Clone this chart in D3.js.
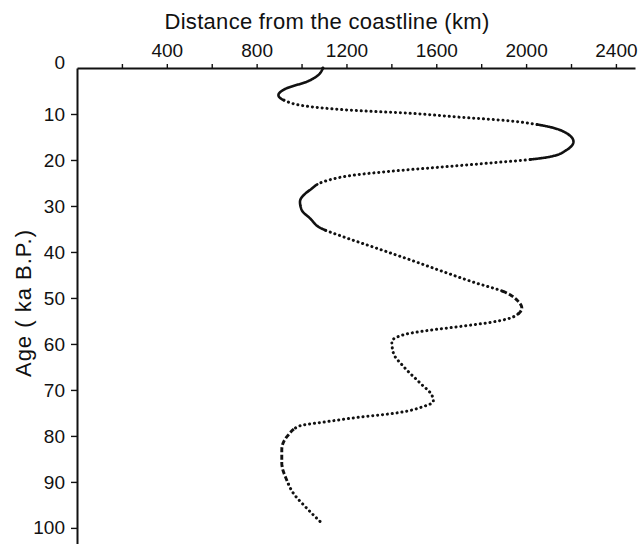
<!DOCTYPE html>
<html>
<head>
<meta charset="utf-8">
<script src="https://cdn.jsdelivr.net/npm/d3@7/dist/d3.min.js"></script>
<style>
  body { margin: 0; background: #fff; }
  text { font-family: 'Liberation Sans', Arial, sans-serif; fill: #111; }
</style>
</head>
<body>
<div id="root"></div>
<script>
// age (ka B.P.) and distance from the coastline (km)
var ages = [0, 1.5, 3.0, 4.4, 5.9, 7.1, 8.4, 9.3, 9.85, 10.7, 11.5, 12.4, 13.8, 16.0, 17.8,
  19.3, 19.9, 20.6, 21.5, 22.4, 23.3, 24.5, 26.5, 29.1, 30.9, 32.7, 34.8, 36.7, 39.2, 41.7,
  44.3, 46.8, 48.6, 50.8, 52.2, 54.1, 55.2, 56.2, 57.1, 58.0, 59.5, 62.0, 64.9, 68.5, 71.1,
  72.5, 73.6, 75.1, 75.9, 76.9, 77.8, 79.8, 83.0, 85.9, 89.6, 92.5, 95.7, 99.3];
var distances = [1095, 1075, 1023, 934, 897, 926, 1038, 1261, 1483, 1706, 1929, 2062, 2166, 2211, 2181,
  2107, 2018, 1854, 1632, 1409, 1231, 1112, 1038, 993, 1001, 1038, 1085, 1186, 1335, 1483,
  1632, 1780, 1899, 1966, 1981, 1944, 1854, 1706, 1558, 1454, 1402, 1409, 1454, 1528, 1580,
  1587, 1543, 1409, 1261, 1112, 993, 941, 912, 912, 934, 964, 1023, 1097];

var distanceTicks = [200, 400, 600, 800, 1000, 1200, 1400, 1600, 1800, 2000, 2200, 2400];
var distanceLabels = [400, 800, 1200, 1600, 2000, 2400];
var ageTicks = [0, 10, 20, 30, 40, 50, 60, 70, 80, 90, 100];

// how the trace is inked, by age span (the rest is dotted)
var lineStyles = [
  { from: 0, to: 7, style: 'solid' },
  { from: 12.3, to: 19.9, style: 'solid' },
  { from: 25.3, to: 35.3, style: 'solid' },
  { from: 48.5, to: 53.5, style: 'dashed' },
  { from: 78.5, to: 90.5, style: 'dashed' }
];

var strokes = {
  dotted: { width: 3, dash: '0.1 4.8', cap: 'round' },
  solid: { width: 2.6, dash: null, cap: 'round' },
  dashed: { width: 2.9, dash: '5 2.4', cap: 'butt' }
};

var margin = { top: 68, right: 7, bottom: 0, left: 77 },
  width = 642 - margin.left - margin.right,
  height = 544 - margin.top - margin.bottom;

var svg = d3.select('#root')
  .append('svg')
    .attr('width', 642)
    .attr('height', 544);

var g = svg.append('g')
  .attr('transform', 'translate(' + margin.left + ', ' + margin.top + ')');

var xScale = d3.scaleLinear()
  .domain([0, 2485])
  .range([0, width]);

var yScale = d3.scaleLinear()
  .domain([0, 103.5])
  .range([0, height]);

var xAxisCall = d3.axisTop(xScale)
  .tickValues(distanceTicks)
  .tickSize(4)
  .tickSizeOuter(0)
  .tickPadding(7)
  .tickFormat(d => distanceLabels.indexOf(d) >= 0 ? d : '');

var xAxis = g.append('g')
  .attr('class', 'x-axis')
  .call(xAxisCall);

var yAxisCall = d3.axisLeft(yScale)
  .tickValues(ageTicks)
  .tickSize(6)
  .tickSizeOuter(0)
  .tickPadding(6);

var yAxis = g.append('g')
  .attr('class', 'y-axis')
  .call(yAxisCall);

[xAxis, yAxis].forEach(axis => {
  axis.select('.domain').attr('stroke', '#111').attr('stroke-width', 2);
  axis.selectAll('.tick line').attr('stroke', '#111').attr('stroke-width', 1.4);
  axis.selectAll('.tick text')
    .attr('font-size', '19px')
    .attr('font-family', "'Liberation Sans', Arial, sans-serif")
    .attr('fill', '#111');
});

// the 0 sits at the corner, just above the top axis
yAxis.selectAll('.tick')
  .filter(d => d === 0)
  .call(t => t.select('line').remove())
  .select('text')
    .attr('dy', '0.05em');

svg.append('text')
  .attr('class', 'x-axis-label')
  .attr('x', 327)
  .attr('y', 29)
  .attr('font-size', '22px')
  .attr('letter-spacing', '0.3px')
  .attr('text-anchor', 'middle')
  .text('Distance from the coastline (km)');

svg.append('text')
  .attr('class', 'y-axis-label')
  .attr('x', -303)
  .attr('y', 31)
  .attr('font-size', '22px')
  .attr('letter-spacing', '1px')
  .attr('text-anchor', 'middle')
  .attr('transform', 'rotate(-90)')
  .text('Age ( ka B.P.)');

// guide path through the data, then re-inked piece by piece
var points = ages.map((a, i) => [distances[i], a]);

var line = d3.line()
  .x(d => xScale(d[0]))
  .y(d => yScale(d[1]))
  .curve(d3.curveMonotoneY);

var guide = g.append('path')
  .attr('d', line(points))
  .attr('fill', 'none')
  .attr('stroke', 'none');

var node = guide.node(),
  total = node.getTotalLength();

var lengthAtAge = age => {
  var target = yScale(age), lo = 0, hi = total;
  for (var k = 0; k < 40; k++) {
    var mid = (lo + hi) / 2;
    if (node.getPointAtLength(mid).y < target) lo = mid; else hi = mid;
  }
  return lo;
};

var pieces = [], cursor = 0;
lineStyles.forEach(s => {
  var a = lengthAtAge(s.from), b = lengthAtAge(s.to);
  if (a > cursor) pieces.push({ start: cursor, end: a, style: 'dotted' });
  pieces.push({ start: a, end: b, style: s.style });
  cursor = b;
});
if (cursor < total) pieces.push({ start: cursor, end: total, style: 'dotted' });

var polyline = d3.line();

g.selectAll('path.trace')
  .data(pieces)
  .enter()
  .append('path')
    .attr('class', 'trace')
    .attr('d', p => {
      var pts = [];
      for (var l = p.start; l < p.end; l += 0.8) {
        var q = node.getPointAtLength(l);
        pts.push([q.x, q.y]);
      }
      var e = node.getPointAtLength(p.end);
      pts.push([e.x, e.y]);
      return polyline(pts);
    })
    .attr('fill', 'none')
    .attr('stroke', '#111')
    .attr('stroke-width', p => strokes[p.style].width)
    .attr('stroke-dasharray', p => strokes[p.style].dash)
    .attr('stroke-linecap', p => strokes[p.style].cap)
    .attr('stroke-linejoin', 'round');
</script>
</body>
</html>
